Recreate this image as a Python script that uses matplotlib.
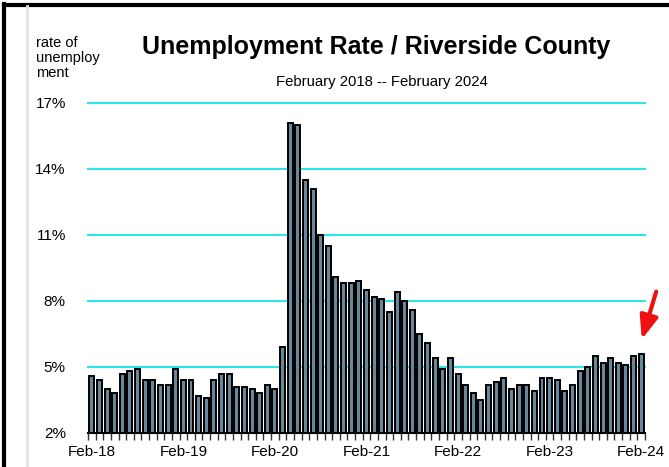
import numpy as np
import matplotlib
matplotlib.use("Agg")
import matplotlib.pyplot as plt
from matplotlib.lines import Line2D

# Tasa de desempleo mensual, Feb-2018 .. Feb-2024 (73 meses)
rates = [4.6, 4.4, 4.0, 3.8, 4.7, 4.8, 4.9, 4.4, 4.4, 4.2, 4.2, 4.9,
         4.4, 4.4, 3.7, 3.6, 4.4, 4.7, 4.7, 4.1, 4.1, 4.0, 3.8, 4.2,
         4.0, 5.9, 16.1, 16.0, 13.5, 13.1, 11.0, 10.5, 9.1, 8.8, 8.8, 8.9,
         8.5, 8.2, 8.1, 7.5, 8.4, 8.0, 7.6, 6.5, 6.1, 5.4, 4.9, 5.4,
         4.7, 4.2, 3.8, 3.5, 4.2, 4.3, 4.5, 4.0, 4.2, 4.2, 3.9, 4.5,
         4.5, 4.4, 3.9, 4.2, 4.8, 5.0, 5.5, 5.2, 5.4, 5.2, 5.1, 5.5, 5.6]
tick_labels = ["Feb-18", "Feb-19", "Feb-20", "Feb-21", "Feb-22", "Feb-23", "Feb-24"]
y_ticks = [2, 5, 8, 11, 14, 17]

plt.rcParams['font.family'] = ['Liberation Sans', 'DejaVu Sans']

fig = plt.figure(figsize=(6.69, 4.67), dpi=100)
fig.patch.set_facecolor('white')
ax = fig.add_axes([88/669, 34/467, 557/669, 330/467])

x = np.arange(len(rates))
ax.bar(x, rates, width=0.65, bottom=0, color='#6a8799', edgecolor='black',
       linewidth=1.4, zorder=3)

#Ejes
ax.set_xlim(-0.5, len(rates) - 0.5)
ax.set_ylim(2, 17)
ax.set_yticks(y_ticks)
ax.set_yticklabels([f"{v}%" for v in y_ticks], fontsize=11)
ax.tick_params(axis='y', length=0, pad=16)
ax.set_xticks(x[::12])
ax.set_xticklabels(tick_labels, fontsize=11)
ax.tick_params(axis='x', which='major', length=0, pad=9)
ax.set_xticks(np.arange(-0.5, len(rates)), minor=True)
ax.tick_params(axis='x', which='minor', length=5, width=1, color='#333333', direction='out')
for s in ['left', 'right', 'top']:
    ax.spines[s].set_visible(False)
ax.spines['bottom'].set_linewidth(1.5)
ax.spines['bottom'].set_zorder(4)

#Lineas de la grilla
for v in y_ticks[1:]:
    ax.axhline(v, color='#2ae6e6', linewidth=1.5, zorder=1, clip_on=False)

#Textos
fig.text(376/669, 1 - 47/467, "Unemployment Rate / Riverside County", ha='center',
         va='center', fontsize=18, fontweight='bold')
fig.text(382/669, 1 - 82/467, "February 2018 -- February 2024", ha='center',
         va='center', fontsize=10.7)
fig.text(36/669, 1 - 58/467, "rate of\nunemploy\nment", ha='left', va='center',
         fontsize=10.5, linespacing=1.1)

#Flecha roja
ax.annotate("", xy=(641, 125), xycoords='figure pixels', xytext=(657, 178),
            textcoords='figure pixels',
            arrowprops=dict(arrowstyle='-|>,head_length=1.4,head_width=0.55',
                            color='#ee1111', lw=3))

#Marco
fig.add_artist(Line2D([4/669, 4/669], [0, 1 - 4/467], color='black', lw=3))
fig.add_artist(Line2D([4/669, 1], [1 - 5/467, 1 - 5/467], color='black', lw=3))
fig.add_artist(Line2D([27/669, 27/669], [0, 1 - 6/467], color='#e4e4e4', lw=2))

fig.savefig("out.png", dpi=100)
